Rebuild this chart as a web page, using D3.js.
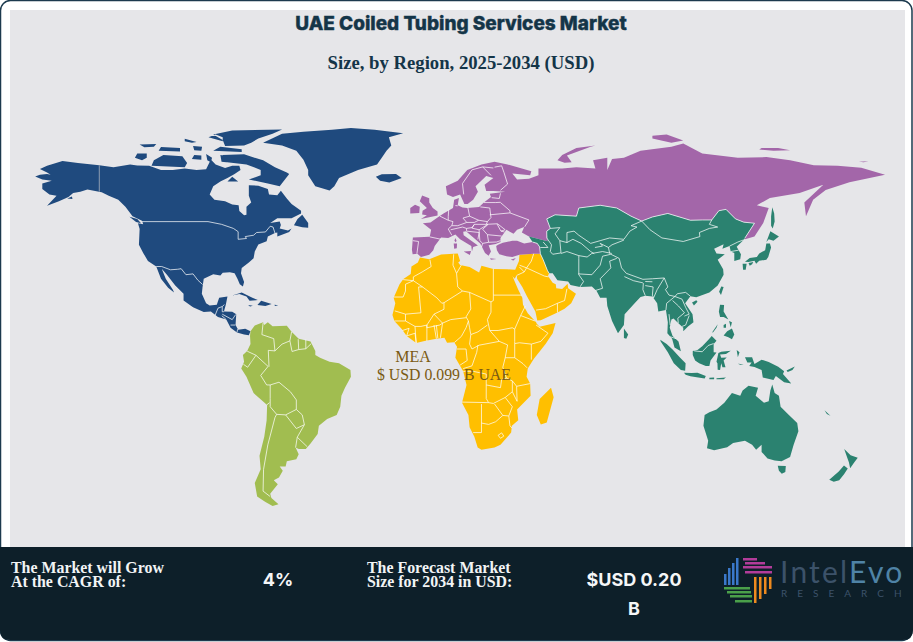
<!DOCTYPE html>
<html>
<head>
<meta charset="utf-8">
<title>UAE Coiled Tubing Services Market</title>
<script src="https://cdn.jsdelivr.net/npm/d3@7"></script>
<style>
  html, body { margin: 0; background: #fff; }
  svg { display: block; }
</style>
</head>
<body>
<svg id="chart" width="913" height="642"></svg>
<script>
// texts
const chartTitle = "UAE Coiled Tubing Services Market";
const chartSubtitle = "Size, by Region, 2025-2034 (USD)";
const regionLabel = ["MEA", "$ USD 0.099 B UAE"];
const growthText = ["The Market will Grow", "At the CAGR of:"];
const growthValue = "4%";
const forecastText = ["The Forecast Market", "Size for 2034 in USD:"];
const forecastValue = ["$USD 0.20", "B"];

// outlines as [lon, lat]
const northAmerica = [
  [[-168,65.6],[-166,66.2],[-163,66.5],[-161.5,66.2],[-163,67],[-166,68.3],[-163,69.5],[-156.5,71.3],[-150,70.5],[-141,69.7],[-135,69],[-128,70],[-125,69.6],[-120,69.5],[-115,68],[-110,68],[-105,68.5],[-100,68],[-96,68.2],[-94,71.8],[-92,70],[-88,68.7],[-85,69.5],[-82,69.5],[-81.5,68],[-84,66.5],[-87,65],[-90,63.7],[-93,62],[-94.5,59],[-92.5,57],[-88,56.5],[-85,55.3],[-82.3,55],[-82,52.9],[-80,51.3],[-79,51.5],[-79,54.5],[-77,56],[-78,58.5],[-78,62.4],[-74,62.2],[-70,61],[-69.5,59],[-66,58.7],[-64.5,60.3],[-62,57.5],[-60,55.5],[-56,53],[-56,52],[-60,50.2],[-66,50.2],[-69,48.5],[-65,49],[-64.5,47.8],[-65,46.5],[-61.5,45.7],[-60,46.5],[-61,45.2],[-66,43.5],[-66,45],[-67,44.8],[-70,43.5],[-70.5,41.8],[-74,40.6],[-75.5,38],[-76,35.5],[-78,34],[-81,32],[-81.3,30],[-80,26.8],[-80.5,25.2],[-81.8,26],[-82.8,28],[-84,30],[-86,30.4],[-89,30.2],[-90,29.2],[-93,29.7],[-97,28],[-97.5,25],[-97.8,22.5],[-96,19],[-94.5,18.2],[-91.5,18.5],[-90.5,21],[-87,21.5],[-87.7,18.5],[-88.5,16],[-85,15.9],[-83.3,15],[-83.6,11],[-82.5,9.3],[-79.5,9.6],[-77.3,8.7],[-78,7.3],[-80,7.5],[-83,8.3],[-85.7,10],[-87.5,13],[-91,14],[-94,16],[-97,15.8],[-101.5,17.5],[-105.5,20],[-105.5,22.5],[-109,25.5],[-112.5,29.5],[-114.7,31.7],[-113,28],[-110,24],[-109.5,23],[-112,24.7],[-115,28],[-117,32.5],[-120.5,34.5],[-122.5,37.5],[-124.3,40.5],[-124,46.3],[-124.7,48.4],[-122.5,48],[-123,49.3],[-127,51],[-130,54.5],[-133,57],[-137,58.5],[-140,59.8],[-146,60.8],[-149,60],[-152,59.5],[-154,58],[-158,56.5],[-163,54.8],[-159,58.5],[-162,59],[-165,61],[-165,63],[-161,64],[-165,64.5]],
  // greenland and iceland
  [[-72,78],[-64,77],[-58,75],[-55,71.7],[-53,68],[-53,66],[-50,62],[-44,60.4],[-42,62],[-40,65],[-32,68],[-24,70],[-22,72.5],[-20,75],[-18,77],[-19,80],[-13,81.5],[-25,82.7],[-35,83.4],[-43,82.7],[-55,82],[-64,81.3]],
  [[-24.5,65.5],[-22,66.4],[-16,66.5],[-13.6,65],[-18.8,63.4],[-22.7,64]],
  // arctic islands
  [[-61,66.5],[-65,62],[-70,63],[-78,64.5],[-73,66],[-73,68],[-79,70],[-89,71],[-89,73.5],[-80,73.7],[-72,71.5],[-67,69],[-62,67]],
  [[-119,69.5],[-105,69],[-104,70.5],[-106,73],[-114,73.5],[-118,71.5]],
  [[-126,72.5],[-123,71.5],[-121,72.5],[-121,74],[-125,74]],
  [[-93,81],[-85,82.5],[-64,82.8],[-68,81.3],[-74,79.5],[-77,78],[-80,77],[-88,76.8],[-89,79]],
  [[-93,75],[-81,74.6],[-81,75.6],[-90,76.5]],
  [[-95,80],[-89,78.5],[-89,80],[-92,81]],
  [[-116,75],[-107,74.8],[-107,76],[-115,76.4]],
  [[-102,72],[-98,71.7],[-98,73.3],[-101,73.5]],
  [[-96,73.8],[-93.5,72.5],[-94,70.8],[-95.5,71.5]],
  [[-90,73.5],[-87,73],[-87.5,70.8],[-89.5,71]],
  [[-87,63.7],[-82.5,63.7],[-85,65.5]],
  [[-105,79.4],[-100,78.2],[-102,78],[-105,78.5]],
  [[-101.5,76.8],[-97.7,76.5],[-98,75],[-101,75.2]],
  [[-124,77.3],[-117,77.5],[-118,76.5],[-122,76.3]],
  [[-59,47.7],[-55.5,46.9],[-53,46.7],[-53,48.5],[-55.5,51.5],[-57.5,50]],
  [[-85,21.9],[-81,23],[-76.5,21],[-74.2,20.2],[-77.7,19.9],[-79,21.5],[-82,22.4]],
  [[-74.4,18.4],[-72.8,19.9],[-68.4,18.7],[-71,18]],
  [[-78.3,18.4],[-76.3,18.1],[-77.5,17.8]],
  [[-67.2,18.5],[-65.6,18.3],[-67,18]],
  [[-128.3,50.8],[-125,50],[-123.4,48.4],[-125.5,48.9]],
  [[-154.5,57.5],[-152.5,58.2],[-152.3,57.3]]
];
const southAmerica = [
  [[-77.3,8.7],[-75.5,10.8],[-72,12],[-71.5,11],[-70,12],[-68,10.6],[-62,10.7],[-60,8.5],[-57,6],[-52,5],[-50,1.5],[-50,0],[-48,-1],[-44,-2.5],[-40,-3],[-35.2,-5.5],[-35,-8],[-37.5,-12],[-39,-15],[-39.5,-19],[-41,-22],[-45,-23.5],[-48.5,-26],[-49,-29],[-52,-32.5],[-54,-34.5],[-57,-34.5],[-58.3,-34],[-57,-36.5],[-58,-38.3],[-62,-39],[-62.5,-41],[-65,-41],[-63.7,-42.5],[-65.3,-45],[-67.5,-46],[-65.8,-47.5],[-69,-51],[-68.5,-52.5],[-65.5,-54.8],[-68,-55.5],[-71,-54],[-74.5,-52],[-75.5,-47],[-73,-42],[-73.5,-37],[-71.5,-30],[-70.5,-24],[-70.3,-18.4],[-76,-14],[-79,-8],[-81.2,-5],[-80,-2.5],[-80.5,0],[-78.7,1.5],[-77.3,4],[-77.5,7]]
];
const africa = [
  [[-5.9,35.8],[-2,35.2],[3,36.9],[10,37.3],[11,34.5],[10.2,34],[11,33.1],[15,32.3],[19,30.3],[20,32.8],[25,31.6],[31,31.5],[34.2,31.3],[35.8,34.5],[36,36.8],[42,37.2],[44.8,37.2],[46,35],[47.8,31],[48.5,30],[48,29],[50,26.5],[51.3,26],[51.5,24.5],[54,24.2],[56.3,26.2],[56.5,24.5],[59.8,22.5],[57.8,19],[55,17],[52,15.6],[45,12.8],[43.5,12.7],[42.7,16],[39.2,21.5],[37.2,25],[35,28],[34.9,29.5],[34,28],[33,29],[32.6,29.9],[34,27],[35.5,24],[37.2,21],[37.5,18.5],[39.5,15.3],[43,12],[43.3,11.5],[44.5,10.4],[51.2,11.8],[50,8],[47,4],[42,-1.5],[39.5,-5],[39,-8],[40.5,-10.5],[40.7,-15],[35,-20],[35.5,-24],[32.8,-26],[32.5,-28.5],[28,-33],[25.5,-34],[20,-34.8],[18.4,-34],[17,-30],[15,-26.5],[14.5,-22],[11.8,-17.5],[13.7,-11],[12.3,-6],[9,-1],[9.7,3],[8.5,4.7],[5.5,4.5],[4.4,6.3],[1,6],[-4,5.1],[-7.5,4.4],[-11.5,7],[-13.5,9.5],[-16.7,12.5],[-17.5,14.7],[-16.3,19],[-17,21],[-14.5,26],[-12.9,27.9],[-9.8,29.8],[-9.5,32.5],[-6.8,34]],
  [[49.3,-12],[50.4,-15.5],[47.5,-24.8],[45,-25.5],[43.3,-22],[44.5,-16.2]]
];
const europe = [
  [[-9,37],[-9.3,38.7],[-8.9,43.2],[-1.8,43.4],[-1.2,46],[-4.7,48.4],[-1.5,48.7],[1.5,50.5],[4,52],[8,54],[8.5,57],[10.5,57.7],[10,55],[12,54.2],[14,54],[19,54.4],[21,56],[24,58],[23.5,59.2],[30,60],[25,60.2],[22,60.2],[21.3,62.5],[25,65],[22,65.8],[17.5,62],[18.5,60],[16.5,57],[14.2,55.5],[12.8,55.5],[11,59],[8,58],[5.5,59],[5,62],[10,64],[14,68],[20,70],[25.5,71],[31,70],[41,67.5],[40.5,66],[33,66.7],[35,64.5],[40,64.7],[44,66],[44,68.5],[54,68.5],[60,69],[68,68.5],[67,71.5],[73,72.5],[73,68],[75,72],[80,72.5],[87,75],[100,76.5],[105,77.7],[113,74],[128,72.5],[140,72.7],[150,71.5],[160,69.7],[170,69.5],[180,68.8],[190,66.2],[175,63.5],[165,60.6],[159.7,57],[156.7,51],[156,56],[164,62.5],[154,59.5],[141.5,57.7],[136,55],[141,54],[138.7,48.5],[135,43.5],[131,42.5],[131,43],[135,48.4],[130.5,48.8],[127,50],[123,53.5],[120,53],[117,49.6],[113,49.6],[108,49.5],[98.5,52],[92,50.7],[87.5,49.2],[83,51],[77,54],[70,55],[61,54],[60,51],[51,51.5],[47.5,50],[49,46.5],[47.5,45.5],[47.8,41.8],[40,43.5],[37,45],[38,47],[35,46],[33.5,44.5],[30.5,46],[28,43],[28,41.5],[26,40.8],[23,40.3],[24,38],[23,36.5],[21.5,37.5],[19.5,41],[13.5,45.5],[12.3,45.3],[12.5,44],[16,41.8],[18.5,40.2],[16.5,39.7],[16,38],[15.7,40],[11,42.5],[9,44.3],[6,43],[3,43.2],[0.3,40],[-0.3,38.5],[-2,36.8],[-5.5,36],[-7,37.2]],
  [[26.2,40],[26.5,38.5],[27.5,37],[30.5,36.3],[33,36],[36,36.8],[42,37.2],[44.8,37.2],[44.5,39.7],[43.5,41],[41.5,41.5],[38,41],[35,42],[33,42],[29,41.2],[27,40.5]],
  [[-5.5,50],[1.5,51.2],[1.5,52.7],[-0.5,54],[-2,56],[-2,57.6],[-5,58.6],[-6,56.5],[-3,54],[-4.8,53],[-5,51.6],[-3,51.3]],
  [[-10,52],[-6.2,52.2],[-6,54.5],[-8,55.2],[-10,54]],
  [[9,43],[9.5,42],[9.2,41.4],[8.6,42]],
  [[8.3,41],[9.7,41],[9.6,39.2],[8.5,39]],
  [[12.5,38],[15.6,38.2],[15.1,36.7]],
  [[23.6,35.5],[26.3,35.3],[24,35]],
  [[32.3,35],[34.5,35.6],[33.5,34.7]],
  [[52,71.5],[55,70.6],[58,70.8],[56,73.3],[66,76.5],[68,77],[60,76],[54,73.5]],
  [[92,79.5],[100,78],[105,78.8],[98,81],[92,80.5]],
  [[137,75.5],[143,75],[150,75.2],[145,76],[138,76]],
  [[179,71],[183,71.2],[181,70.8]]
];
const asia = [
  [[47.5,50],[51,51.5],[60,51],[61,54],[70,55],[77,54],[83,51],[87.5,49.2],[92,50.7],[98.5,52],[108,49.5],[113,49.6],[117,49.6],[120,53],[123,53.5],[127,50],[130.5,48.8],[135,48.4],[131,43],[130.5,42.3],[127.5,39.8],[129.3,37],[129,35.2],[126.5,34.5],[126.5,37.5],[125,38],[124.5,40],[121.5,39],[122,40.7],[118,39],[119,37.3],[122.5,37],[119.5,35],[121.8,31.5],[122,29.5],[119.5,25.5],[116,23],[110.5,21.2],[108,21.6],[105.8,19],[108.9,15],[109.3,12],[107,10.5],[105,8.7],[105,10],[102.5,12],[100.9,13.4],[100,13],[99.3,10],[100.5,7],[103,5],[104,1.4],[101.3,2.8],[100.3,6],[98.3,8],[98.5,12],[97.7,16.5],[94.5,16],[94,19],[92,21.5],[89,21.8],[87,21.3],[85,19.5],[80.3,15],[80,11],[77.5,8],[75,12.5],[73,18],[72.7,21],[70,21],[68.5,23.5],[66.5,25.2],[61.5,25],[57.5,25.7],[56.5,27],[52,27.5],[50,30],[48.5,30],[47.8,31],[46,35],[44.8,37.2],[44.5,39.7],[43.5,41],[41.5,41.5],[40,43.5],[47.8,41.8],[47.5,45.5],[49,46.5]],
  [[95.3,5.6],[98,4],[100.5,2],[103.5,-0.8],[106,-3],[105.8,-5.8],[104,-5.5],[101,-3],[98.5,1],[95.5,5]],
  [[105.3,-6.5],[108.5,-6.6],[111,-6.5],[114.5,-7.7],[114,-8.6],[108,-7.8],[106,-7.3]],
  [[116,-8.4],[118,-8.3],[118,-8.9],[116,-8.9]],
  [[119,-8.5],[123,-8.3],[122,-8.9],[119,-8.9]],
  [[124,-10],[127,-8.4],[125,-9.5]],
  [[109,1.5],[111,1.8],[113,3.2],[115.5,5.5],[117,7],[119,5.2],[117.8,4],[117.8,1],[119,0.9],[116.5,-2],[116,-4],[114.5,-4],[111.7,-3],[110,-2],[109,0]],
  [[119.8,0.7],[121,1.2],[125,1.6],[123,0.4],[120.5,0.2],[121,-1],[123.3,-0.9],[122,-2],[122.8,-4.5],[121.5,-4.5],[121,-3],[120.5,-5.5],[119.5,-5.4],[119.4,-3],[119,-2.5]],
  [[120.5,18.5],[122.2,18.4],[122,16],[124,13],[122,14],[120.5,14],[120,16]],
  [[122,7.2],[123.5,8.7],[125.5,9.7],[126.5,7.5],[125.5,5.8],[124,6.5]],
  [[122,11],[123,11.5],[123,10],[122,10]],
  [[124.3,12.5],[125.5,12],[125,10.2]],
  [[117.2,8.4],[119.5,11.3],[119,10],[117.5,8.3]],
  [[121,25.2],[122,25],[120.9,22],[120.1,23.2]],
  [[108.7,19.3],[110.5,20.1],[111,19.6],[109.5,18.2]],
  [[140,41.5],[141.7,45.5],[145.3,43.5],[143,42],[141,42.5]],
  [[131,34.3],[133,35.6],[136,36],[137,37.3],[139.5,38.5],[140,41],[141.5,41],[142,39.5],[140.8,36],[140,35],[137,34.6],[135.7,33.5],[135,34.6],[132.5,34.2]],
  [[130,33.5],[131.7,33.5],[131.3,31.3],[130.2,31.3]],
  [[132.5,33.8],[134.5,34.2],[134,33.3],[133,32.8]],
  [[142.5,54.3],[143.3,52],[143.5,49],[142.7,46.5],[142,47.5],[142,51]],
  [[80,9.7],[81.8,7.5],[81,6],[80,6.2]],
  [[131,-0.8],[134,-0.8],[135,-3.3],[138,-1.7],[141,-2.6],[145,-4.3],[147.5,-6],[147,-7],[150.5,-10.5],[147.5,-10],[144,-7.7],[143,-9.2],[138.5,-8.3],[138,-5.5],[135,-4.4],[132.8,-4],[133.8,-2.8],[132,-2.8]],
  [[148.5,-5.7],[152,-4.2],[151,-5.5],[149,-6.2]],
  [[127.5,1.8],[128.7,1],[128,-0.8]],
  [[128,-3.2],[130.5,-3.4],[129,-3.6]],
  [[114,-22],[113.5,-26],[115.5,-31.5],[115,-34.3],[118,-35],[123.5,-33.9],[126,-32.3],[131,-31.5],[134,-33],[135.7,-34.8],[138,-33],[138,-35.6],[140.5,-38],[143.5,-38.8],[146.4,-39],[150,-37.5],[151.5,-33],[153.5,-28],[153,-25],[149.5,-22],[146,-19],[145.3,-15],[143.5,-14],[142.5,-10.8],[141.7,-13],[141,-17],[139,-17.5],[135.5,-15],[136.5,-12],[132.5,-11.3],[130,-13],[129,-15],[125.5,-14],[122.3,-17.5],[119,-20],[116,-21]],
  [[144.8,-40.7],[148.2,-40.8],[148,-43],[146.5,-43.6],[145.3,-42.5]],
  [[172.8,-34.5],[175.5,-36.8],[178.5,-37.7],[177,-39.5],[175.3,-41.6],[174.8,-39.5],[174.2,-38]],
  [[172.7,-40.6],[174.3,-41.7],[172.8,-43.7],[170.7,-46],[168.4,-46.6],[166.5,-45.8],[170.5,-42.8]],
  [[164.5,-20.3],[167,-22.3],[165.5,-21.7]]
];

const regionFills = [
  { ring: northAmerica, fill: "#1f4a7e" },
  { ring: southAmerica, fill: "#a1bd50" },
  { ring: africa, fill: "#ffbf00" },
  { ring: europe, fill: "#a366a9" },
  { ring: asia, fill: "#2b8270" }
];

// country lines
const borderLines = [
  // north america
  [[-123,49],[-95.2,49],[-89.5,48],[-84.5,46.5],[-82.5,45.3],[-82.5,42.5],[-79,42.8],[-79.5,43.5],[-76,44],[-74.7,45],[-71,45.2],[-69,47.3],[-67.8,47],[-67,44.8]],
  [[-117,32.5],[-114.7,32.5],[-111,31.3],[-108,31.5],[-106.5,31.7],[-104.5,29.5],[-101.5,29.8],[-99.5,27.5],[-97.5,25.9]],
  [[-92.2,14.6],[-91,17.2],[-89.2,17.8],[-88.3,18.5]],[[-89.2,17.8],[-89.2,15.9],[-88.5,15.9]],[[-89.4,14.4],[-87.7,13.2]],[[-89.2,15],[-85,13],[-83.5,14.9]],[[-85.7,11],[-83.7,11]],[[-83,8.3],[-82.7,9.5]],
  // south america
  [[-72,11.8],[-72.5,7.5],[-67.5,6],[-67,1.5],[-69.8,1.7],[-69.5,-4.3]],
  [[-69.9,-4.2],[-75,-0.1],[-78.7,1.4]],[[-75,-0.1],[-78.5,-4.5],[-80.3,-3.4]],
  [[-69.9,-4.2],[-73,-7.5],[-70.5,-11],[-69,-11]],
  [[-69,-11],[-65.3,-10],[-60.5,-13.5],[-58,-16.5],[-58,-20],[-62.5,-22],[-66.3,-21.8],[-69,-19],[-69,-16],[-69,-11]],
  [[-69.3,-17.5],[-70.4,-18.3]],
  [[-66.3,-21.8],[-67,-23],[-70,-33],[-71.8,-42],[-72,-50],[-69,-52]],
  [[-62.5,-22],[-58,-27],[-54.6,-25.6],[-55.5,-22],[-58,-20]],
  [[-54.6,-25.6],[-57.6,-30.2],[-53.4,-33.7]],[[-57.6,-30.2],[-58.3,-34]],
  [[-67,1.5],[-64,4],[-60.7,5.2],[-60,8.5]],[[-60.7,5.2],[-59.8,1.3],[-57,2],[-57.2,5.8]],[[-57,2],[-54,2.3],[-54,5.7]],[[-54,2.3],[-51.7,4.2]],
  // africa and arabia
  [[-1.7,35],[-1.2,32.5],[-5,30.5],[-8.7,28.7],[-8.7,27.3],[-13,27.7]],
  [[-8.7,27.3],[-12,26],[-12,23.5],[-13,21.3],[-17,21.3]],
  [[-8.7,27.3],[-4.8,25],[-6.5,25],[-5.5,15.5],[-12,15],[-16.5,16.2]],
  [[-4.8,25],[1.2,21],[3.3,19],[4.2,19.2],[4.2,16.8]],
  [[4.2,19.2],[12,23.5],[10,25],[9.5,30],[8,33],[8.3,37]],[[9.5,30],[11.5,33]],
  [[12,23.5],[15,23],[24,19.5],[25,20],[25,22],[25,31.6]],[[25,22],[37,22]],
  [[24,19.5],[24,15.7],[22.5,13],[23.5,9],[27,9],[33,10],[34,9.5]],
  [[15,23],[15.5,16.9],[13.5,14],[14.5,12.5]],[[3.6,11.7],[7,13],[13.5,13.7]],[[2.7,6.3],[3.6,11.7]],
  [[8.6,4.6],[11.5,6.8],[13.5,10],[14.5,12.5],[15,10],[15.5,7.5],[18.5,8.5],[22.5,11]],
  [[23.5,9],[27.5,5],[19,3.6],[16,2.2],[15,4],[15.5,7.5]],
  [[38.5,18],[36.5,14.5],[34,9.5],[34,5],[34,4.2],[36,4.5],[41,4]],[[36.5,14.5],[42.5,12.5]],
  [[43,11],[48,8],[45,5],[41,4],[41,-1.7]],
  [[34,4.2],[34,-1],[37.5,-3.2],[39.2,-4.7]],
  [[27.5,5],[31,3.7],[30,-1],[29,-4.5],[30.5,-8.5],[28.5,-9],[28,-12],[22,-11],[22,-7],[16.5,-6],[12.3,-6]],
  [[12.3,-5],[16,-4],[18,1],[18.5,3.6]],[[9.7,2.2],[13.5,2.2],[14,-2],[11,-3.7]],
  [[11.8,-17.3],[23,-17.5],[22,-16],[22,-11]],[[23,-17.5],[25,-17.8],[30,-15.6],[33,-13.5],[33,-9.5],[30.5,-8.5]],
  [[30,-1],[34,-1]],[[33,-9.5],[34.8,-11.5],[40.5,-10.5]],[[34.8,-11.5],[35,-17],[33,-13.5]],
  [[30,-15.6],[33,-19],[31.5,-22.4],[32,-26],[32.8,-26.8]],
  [[20,-18],[20,-25],[23,-25.5],[26,-24.5],[29,-22.2],[25.5,-18]],[[20,-25],[20,-28.5],[16.5,-28.5]],[[29,-22.2],[31.5,-22.4]],
  [[27,-29.5],[28.5,-28.6],[29.4,-29.8],[28,-30.6],[27,-29.5]],
  [[-12,15],[-12,12.5],[-16.7,12.5]],[[-12,12.5],[-8,10.5],[-5.5,10.5],[-3,11],[0,15],[4.2,16.8]],
  [[-3,11],[-3,10],[2.4,11],[3.6,11.7],[0,15]],[[-8,10.5],[-7.5,4.4]],[[-3,5.1],[-3,11]],[[1,6],[0,11]],[[1.6,6.2],[1,11]],
  [[-11.5,7],[-8,8],[-7.5,4.4]],[[-13.3,9],[-10.5,9.8],[-11.5,7]],
  [[36,33],[39,32],[41,34.5],[42,37.2]],[[35,29.3],[38,30.5],[36,32.3]],[[38,30.5],[39,32],[46.5,29],[48.2,28.7]],
  [[43,16.5],[47,17],[52,19],[55,20],[56,24.3]],[[52,15.6],[52,19]],
  // europe
  [[-1.8,43.4],[3,42.5]],[[-8.9,42],[-6.5,41.7],[-7.2,37.2]],[[2.5,51],[6,49.5],[8,49],[7.5,47.5],[6,46.3],[7.5,44]],
  [[7,46],[12,47],[13.7,46.5],[13.7,45.6]],[[6.2,53.4],[6,50.8],[6,49.5]],[[9,54.9],[10,54.8]],
  [[14.3,54],[15,51],[12.2,50.3],[13.8,48.7],[10,47.5],[7.5,47.5]],[[13.8,48.7],[17,48.7],[18.8,49.5],[15,51]],[[17,48],[16,46.8],[13.7,46.5]],
  [[19.5,54.4],[23.5,54],[24,50.5],[22.5,49],[18.8,49.5]],[[22.5,49],[22,48],[17,48],[16,46.6],[19,46],[22.7,48]],
  [[22,48],[26.5,48.2],[28.2,45.5],[29.7,45.2]],[[22.7,47.9],[20.5,46.2],[22.5,44.2],[28.5,43.7]],[[22.5,44.2],[23,41.4],[26.3,41.5],[28,42]],
  [[19,46],[19.3,42],[20.5,41],[23,41.4]],[[20.5,41],[20,39.6]],[[13.7,45.5],[19,45],[18.5,42.5]],
  [[21,56],[26,56],[28,56.1]],[[24.3,57.8],[27.5,57.5],[28,59.4]],[[23.5,51.5],[32,52.2],[40,49.6],[38.2,47.1]],[[26.6,48.3],[30,46],[28.2,45.5]],[[28,56],[32,53],[32,52.2]],
  [[28,60.5],[31,62.8],[29.5,67],[28.5,69.5],[25.5,69]],[[12.5,59],[12,63],[16,68],[20.5,69.1],[25,68.7]],[[20.5,69.1],[24,66]],
  // asia
  [[53,42],[56,41.3],[56,45],[59,45.5],[61,44],[66,41],[70,42],[74,43],[80,42.5],[82.5,45.5],[85.5,47],[83,47.5],[87.5,49.2]],
  [[56,41.3],[58.5,42.5],[62,41],[66,38],[67.5,37.2]],[[53.5,37.3],[56,38],[61,36.5],[61,35.5]],[[61,36.5],[64.5,36],[66.5,37.3]],
  [[60.8,29.8],[66.5,29.5],[70,33],[71,36.3],[74.5,37]],[[61.5,25],[63,27],[61,29.5],[61,35.5]],[[66.5,37.3],[71,38],[74.9,37.3]],
  [[67.8,39.5],[71,40],[70,41],[73.5,39.5],[75,40.5],[80,42.2]],[[74,37.3],[73.5,39.5]],
  [[68,23.7],[71,24.5],[70,28],[74.5,32],[74,34.5],[77,35.5]],[[74.5,37],[78,35.5],[79,32],[81,30],[88,27.8],[92,28],[97,28.3],[98.5,25],[97.5,24],[99,22],[101.5,21.5],[102.5,22.5],[106,23],[108,21.6]],
  [[80.2,28.8],[84,27.3],[88,26.5]],[[89,27],[92,26.9]],[[88.2,26.4],[88,24],[89,21.8]],[[89,25.5],[92.3,25],[92,22],[92.5,21]],[[92.5,21],[94,24],[97,28.3]],
  [[101.5,21.5],[98,19],[97.7,16.5]],[[101.5,21.5],[104.5,20.5],[106,17.5],[107.5,15],[106,14.5],[105.5,14.3]],[[100.5,20],[103,18],[105.5,15.5],[102.7,13.5],[102.9,11.7]],
  [[107.5,14.5],[106,11],[104.5,10.5]],[[99.5,6.7],[102,6]],[[99,15],[99.5,11]],
  [[87.5,49.2],[91,46],[96,43],[105,41.7],[112,43.5],[111.8,45],[116,46.5],[119.5,47],[116,48],[117,49.6]],
  [[124.5,40],[128,41.5],[130.5,42.3]],[[125,38],[128.3,38.5]],
  [[47.5,45.5],[49,46.5],[53,46.8],[51,44.5],[53,42],[53.5,37.5],[50,37],[49,38],[49.5,40.5],[47.5,43],[47.5,45.5]],
  [[44.8,39.5],[48,39.5],[46,41.5]],
  [[109.6,1.5],[113,1.2],[115.5,3.5],[117.8,4.2]],
  // edges between regions
  [[47.5,50],[51,51.5],[60,51],[61,54],[70,55],[77,54],[83,51],[87.5,49.2],[92,50.7],[98.5,52],[108,49.5],[113,49.6],[117,49.6],[120,53],[123,53.5],[127,50],[130.5,48.8],[135,48.4],[131,43]],
  [[47.5,50],[49,46.5]],[[44.8,37.2],[46,35],[47.8,31],[48.5,30]],[[44.8,37.2],[44.5,39.7],[43.5,41],[41.5,41.5]]
];
const alaskaLine = [[-141,69.7],[-141,60]];

const width = 913, height = 642;
const svg = d3.select("#chart");

// the map is a plain lon/lat grid, stretched a bit on y
const lonScale = d3.scaleLinear().domain([-180, 180]).range([6.7, 861.3]);
const latScale = d3.scaleLinear().domain([-90, 90]).range([600, 110]);
const mapProjection = d3.geoTransform({
  point(lon, lat) { this.stream.point(lonScale(lon), latScale(lat)); }
});
const path = d3.geoPath(mapProjection);
const closeRing = r => r.concat([r[0]]);

// card
svg.append("rect").attr("x", 0.5).attr("y", 0.5).attr("width", width - 1.5).attr("height", height - 2)
  .attr("rx", 10).attr("fill", "#fff").attr("stroke", "#1c3a4e").attr("stroke-width", 1.5);
svg.append("rect").attr("x", 10).attr("y", 10).attr("width", 895).attr("height", 538).attr("fill", "#e6e6e9");
svg.append("path")
  .attr("d", "M0,547 H913 V630 Q913,640 903,640 H10 Q0,640 0,630 Z")
  .attr("fill", "#0d1f29");

// regions
svg.append("g").selectAll("path")
  .data(regionFills)
  .join("path")
  .attr("d", d => path({ type: "MultiPolygon", coordinates: d.ring.map(r => [closeRing(r)]) }))
  .attr("fill", d => d.fill);

svg.append("path")
  .attr("d", path({ type: "MultiLineString", coordinates: borderLines }))
  .attr("fill", "none").attr("stroke", "#fff").attr("stroke-width", 0.8).attr("stroke-opacity", 0.9);
svg.append("path")
  .attr("d", path({ type: "LineString", coordinates: alaskaLine }))
  .attr("fill", "none").attr("stroke", "#9aa7b8").attr("stroke-width", 0.9);

// titles
svg.append("text").attr("x", 461).attr("y", 30).attr("text-anchor", "middle")
  .style("font", "800 19px Inter").attr("fill", "#143548")
  .attr("stroke", "#143548").attr("stroke-width", 0.4).text(chartTitle);
svg.append("text").attr("x", 461).attr("y", 69).attr("text-anchor", "middle")
  .style("font", "bold 18.7px 'Liberation Serif'").attr("fill", "#143548").text(chartSubtitle);

// label on the map
svg.append("text").attr("x", 413).attr("y", 362).attr("text-anchor", "middle")
  .style("font", "16px 'Liberation Serif'").attr("fill", "#7a5a12").text(regionLabel[0]);
svg.append("text").attr("x", 377).attr("y", 380)
  .style("font", "15.8px 'Liberation Serif'").attr("fill", "#7a5a12").text(regionLabel[1]);

// footer, both lines set tight like the original
const footerLines = (x, lines) => svg.append("text")
  .attr("x", x).attr("y", 573)
  .style("font", "bold 15.9px 'Liberation Serif'").attr("fill", "#f2f4f5")
  .selectAll("tspan").data(lines).join("tspan")
  .attr("x", x).attr("dy", (d, i) => i ? 14 : 0).text(d => d);
footerLines(11, growthText);
footerLines(367, forecastText);

svg.append("text").attr("x", 278).attr("y", 586).attr("text-anchor", "middle")
  .style("font", "bold 18px Inter").attr("fill", "#f5f6f7").text(growthValue);
svg.append("g").selectAll("text").data(forecastValue).join("text")
  .attr("x", 634).attr("y", (d, i) => 586 + i * 29).attr("text-anchor", "middle")
  .style("font", "bold 18px Inter").attr("fill", "#f5f6f7").text(d => d);

// logo
const logo = svg.append("g");
const bar = (x, y, w, h, c) => logo.append("rect").attr("x", x).attr("y", y).attr("width", w).attr("height", h).attr("fill", c);
[[724,574,11],[728,568,17],[732,563,22],[736,558,27]].forEach(d => bar(d[0], d[1], 2.5, d[2], "#3a78c9"));
[[743,558,14],[745,562,20],[743,566,29],[745,571,27]].forEach(d => bar(d[0], d[1], d[2], 2.5, "#b23c9a"));
[[769,577,12],[764,577,17],[759,577,22],[754,577,26]].forEach(d => bar(d[0], d[1], 2.5, d[2], "#ee8a1f"));
[[724,587,26],[727,591,24],[730,595,22],[735,600,17]].forEach(d => bar(d[0], d[1], d[2], 2.5, "#4aa04a"));

const brand = svg.append("text").attr("x", 780).attr("y", 583).style("font", "400 30px Lato").attr("letter-spacing", 2.2);
brand.append("tspan").attr("fill", "#3c5269").text("Intel");
brand.append("tspan").attr("fill", "#4f83a6").text("Evo");
svg.append("text").attr("x", 781).attr("y", 597).style("font", "400 10px Lato")
  .attr("letter-spacing", 10).attr("fill", "#3c5269").text("RESEARCH");
</script>
</body>
</html>
